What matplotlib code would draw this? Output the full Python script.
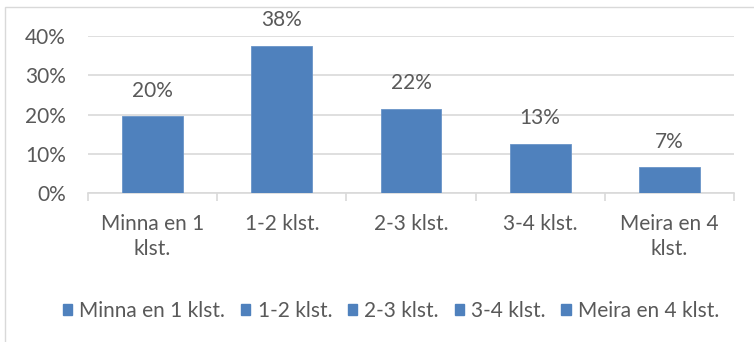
import matplotlib.pyplot as plt
from matplotlib.patches import Rectangle

# data
categories = ['Minna en 1 klst.', '1-2 klst.', '2-3 klst.', '3-4 klst.', 'Meira en 4 klst.']
tick_labels = ['Minna en 1\nklst.', '1-2 klst.', '2-3 klst.', '3-4 klst.', 'Meira en 4\nklst.']
shares = [0.195, 0.375, 0.215, 0.125, 0.065]
y_ticks = [0, 0.1, 0.2, 0.3, 0.4]

BLUE = '#4F81BD'
TEXT = '#595959'
GRID = '#D9D9D9'
FS = 15


def main():
    plt.rcParams['font.family'] = ['Lato', 'DejaVu Sans']

    fig = plt.figure(figsize=(7.54, 3.42), dpi=100)
    W, H = 754, 342
    # axes box in pixels: left 88, right 734, bottom 193, top 36
    ax = fig.add_axes([88 / W, 1 - 193 / H, (734 - 88) / W, (193 - 36) / H])

    # outer chart frame (only left and top visible in the crop)
    fig.patches.append(Rectangle((5 / W, -0.1), 1.2, 1 - 7 / H + 0.1,
                                 transform=fig.transFigure, fill=False,
                                 edgecolor='#D9D9D9', linewidth=1.0))

    x = list(range(len(categories)))
    ax.bar(x, shares, width=0.47, color=BLUE, edgecolor='#6A94C8',
           linewidth=0.6, zorder=3)

    for xi, v in zip(x, shares):
        ax.text(xi, v + 0.04, f"{int(v * 100 + 0.5 + 1e-9)}%", ha='center', va='bottom',
                fontsize=FS, color=TEXT, clip_on=False)

    ax.set_xlim(-0.5, len(categories) - 0.5)
    ax.set_ylim(0, 0.4)
    ax.set_yticks(y_ticks)
    ax.set_yticklabels([f"{int(round(t * 100))}%" for t in y_ticks])
    ax.grid(axis='y', color=GRID, linewidth=1.2, zorder=0)
    ax.set_axisbelow(True)

    ax.set_xticks(x)
    ax.set_xticklabels(tick_labels, linespacing=1.3)
    ax.set_xticks([i - 0.5 for i in range(len(categories) + 1)], minor=True)
    ax.tick_params(axis='x', which='major', length=0, pad=15, labelsize=FS, labelcolor=TEXT)
    ax.tick_params(axis='x', which='minor', length=6, color=GRID, width=1.2)
    ax.tick_params(axis='y', length=0, pad=16, labelsize=FS, labelcolor=TEXT)

    for s in ['top', 'right', 'left']:
        ax.spines[s].set_visible(False)
    ax.spines['bottom'].set_color(GRID)
    ax.spines['bottom'].set_linewidth(1.2)

    handles = [plt.Rectangle((0, 0), 1, 1, color=BLUE) for _ in categories]
    fig.legend(handles, categories, loc='center', bbox_to_anchor=(391 / W, 1 - 311 / H),
               ncol=5, frameon=False, fontsize=FS, labelcolor=TEXT,
               handlelength=0.45, handleheight=0.45, handletextpad=0.35,
               columnspacing=0.75)

    fig.savefig('out.png', dpi=100)


if __name__ == '__main__':
    main()
